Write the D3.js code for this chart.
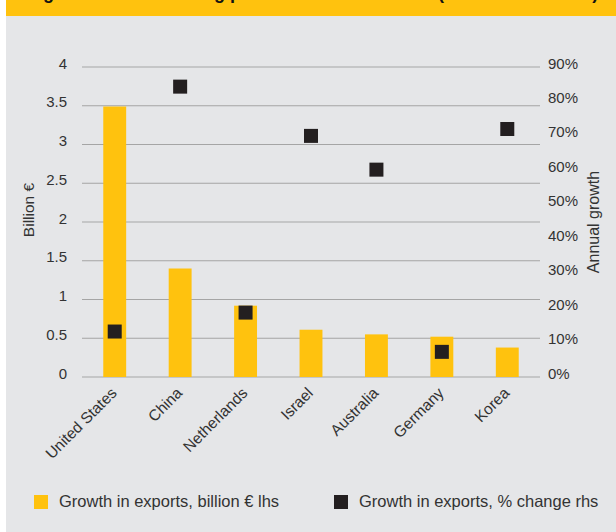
<!DOCTYPE html>
<html>
<head>
<meta charset="utf-8">
<script src="https://cdn.jsdelivr.net/npm/d3@7"></script>
<style>
  html, body { margin: 0; padding: 0; background: #fff; }
  svg { display: block; font-family: "Liberation Sans", Arial, sans-serif; }
</style>
</head>
<body>
<svg id="chart" width="616" height="532"></svg>
<script>
// chart data
const countries = ['United States', 'China', 'Netherlands', 'Israel', 'Australia', 'Germany', 'Korea'];
const exportGrowthBn = [3.49, 1.40, 0.92, 0.61, 0.55, 0.52, 0.38];
const exportGrowthPct = [13.2, 84.3, 18.7, 70.0, 60.2, 7.3, 72.0];
const leftTicks = [0, 0.5, 1, 1.5, 2, 2.5, 3, 3.5, 4];
const rightTicks = [0, 10, 20, 30, 40, 50, 60, 70, 80, 90];
const legendLabels = ['Growth in exports, billion € lhs', 'Growth in exports, % change rhs'];

const yellow = '#ffc20e';
const dark = '#231f20';
const textColor = '#333';

const svg = d3.select('#chart');

// panel + banner
svg.append('rect').attr('x', 6).attr('y', 0).attr('width', 610).attr('height', 532).attr('fill', '#e5e6e8');
svg.append('rect').attr('x', 6).attr('y', 0).attr('width', 610).attr('height', 16).attr('fill', yellow);
// title sits mostly above the visible area, as in the reference
svg.append('text')
    .attr('x', 27).attr('y', -1)
    .attr('font-size', 18).attr('font-weight', 'bold').attr('fill', '#111')
    .text('Figure 6: Fastest rising partners outside the EU (2008 versus 2013)');

const plot = { left: 82, right: 540, top: 67, bottom: 377 };

const x = d3.scaleBand().domain(countries).range([plot.left, plot.right]).paddingInner(0.65).paddingOuter(0.325);
const yLeft = d3.scaleLinear().domain([0, 4]).range([plot.bottom, plot.top]);
const yRight = d3.scaleLinear().domain([0, 90]).range([plot.bottom, plot.top]);

// gridlines
svg.append('g').selectAll('line').data(leftTicks).join('line')
    .attr('x1', plot.left).attr('x2', plot.right)
    .attr('y1', d => yLeft(d)).attr('y2', d => yLeft(d))
    .attr('stroke', '#a5a5a5').attr('stroke-width', 1.2);

// left axis labels
svg.append('g').selectAll('text').data(leftTicks).join('text')
    .attr('x', 67).attr('y', d => yLeft(d) + 1.5)
    .attr('text-anchor', 'end').attr('font-size', 15).attr('fill', textColor)
    .text(d => d);

// right axis labels
svg.append('g').selectAll('text').data(rightTicks).join('text')
    .attr('x', 548).attr('y', d => yRight(d) + 1.5)
    .attr('text-anchor', 'start').attr('font-size', 15).attr('fill', textColor)
    .text(d => d + '%');

// axis titles
svg.append('text')
    .attr('transform', 'translate(34,210) rotate(-90)')
    .attr('text-anchor', 'middle').attr('font-size', 15.5).attr('fill', textColor)
    .text('Billion €');
svg.append('text')
    .attr('transform', 'translate(599,222) rotate(-90)')
    .attr('text-anchor', 'middle').attr('font-size', 16).attr('fill', textColor)
    .text('Annual growth');

// bars
svg.append('g').selectAll('rect').data(countries).join('rect')
    .attr('x', d => x(d))
    .attr('width', x.bandwidth())
    .attr('y', (d, i) => yLeft(exportGrowthBn[i]))
    .attr('height', (d, i) => yLeft(0) - yLeft(exportGrowthBn[i]))
    .attr('fill', yellow);

// markers
const m = 14;
svg.append('g').selectAll('rect').data(countries).join('rect')
    .attr('x', d => x(d) + x.bandwidth() / 2 - m / 2)
    .attr('y', (d, i) => yRight(exportGrowthPct[i]) - m / 2)
    .attr('width', m).attr('height', m)
    .attr('fill', dark);

// category labels
svg.append('g').selectAll('text').data(countries).join('text')
    .attr('transform', d => `translate(${x(d) + x.bandwidth() / 2 + 3},${plot.bottom + 17}) rotate(-45)`)
    .attr('text-anchor', 'end').attr('font-size', 15.5).attr('fill', textColor)
    .text(d => d);

// legend
const legend = svg.append('g').attr('transform', 'translate(34,495)');
const legendX = [0, 300];
const legendColors = [yellow, dark];
legendLabels.forEach((label, i) => {
    legend.append('rect').attr('x', legendX[i]).attr('y', 0).attr('width', 14).attr('height', 14).attr('fill', legendColors[i]);
    legend.append('text').attr('x', legendX[i] + 25).attr('y', 12)
        .attr('font-size', 16.5).attr('fill', textColor).text(label);
});
</script>
</body>
</html>
